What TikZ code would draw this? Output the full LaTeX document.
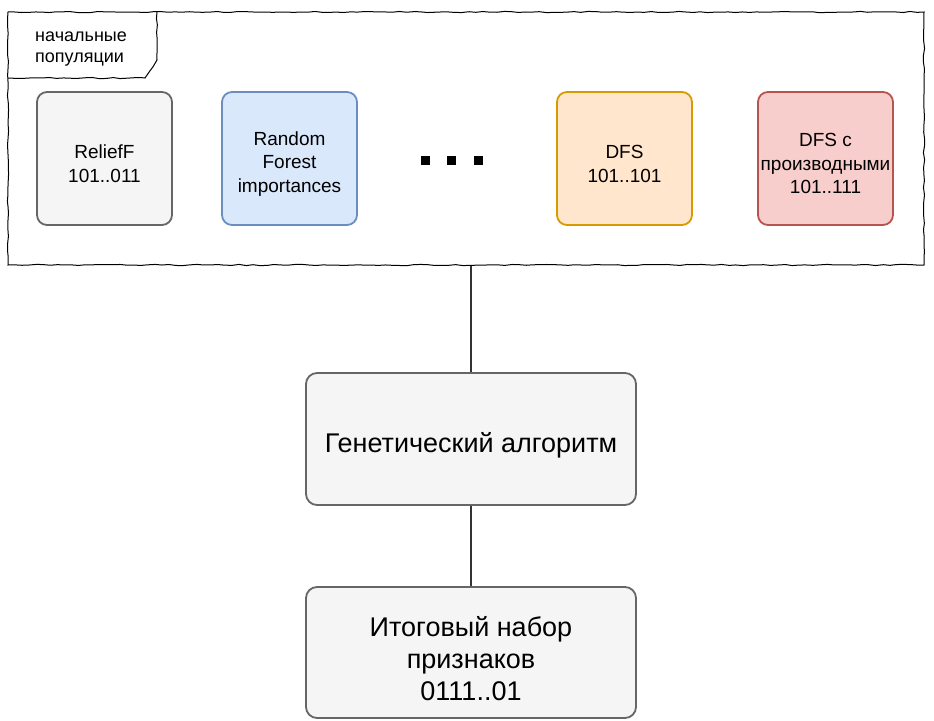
\documentclass[tikz,border=0pt]{standalone}
\usepackage{fontspec}
\setmainfont{Liberation Sans}
\usetikzlibrary{decorations.pathmorphing}
\definecolor{grayF}{HTML}{F5F5F5}
\definecolor{grayS}{HTML}{666666}
\definecolor{blueF}{HTML}{DAE8FC}
\definecolor{blueS}{HTML}{6C8EBF}
\definecolor{orangeF}{HTML}{FFE6CC}
\definecolor{orangeS}{HTML}{D79B00}
\definecolor{redF}{HTML}{F8CECC}
\definecolor{redS}{HTML}{B85450}
\newcommand{\popstrut}{\rule{0pt}{24pt}}
\newcommand{\bigstrut}{\rule{0pt}{32pt}}
\tikzset{
  sketch/.style={decorate, decoration={random steps, segment length=7pt, amplitude=0.6pt}},
  popbox/.style={draw, line width=1.8pt, rounded corners=10pt, minimum width=135pt, minimum height=133pt,
    align=center, font=\fontsize{19}{23.5}\selectfont, inner sep=2pt},
  bigbox/.style={draw=grayS, fill=grayF, line width=1.8pt, rounded corners=11pt, minimum width=330pt,
    align=center, font=\fontsize{27}{32}\selectfont},
  dotsq/.style={fill=black, minimum size=9pt, inner sep=0pt},
  conn/.style={draw=black!80, line width=1.3pt},
}
\begin{document}
\begin{tikzpicture}[x=1pt,y=-1pt]
\pgfmathsetseed{7}
\useasboundingbox (0,0) rectangle (934,720);
% container
\node (pop) [sketch, draw, line width=1pt, minimum width=916pt, minimum height=253pt, inner sep=0pt] at (466,138.5) {};
\draw[sketch, line width=1pt] (8,78) -- (145,78) -- (157,60) -- (157,12);
\node (lbl) [align=left, font=\fontsize{18}{21}\selectfont, anchor=north west, inner sep=0pt] at (35,32) {начальные\\популяции};
% population boxes
\node (rf) [popbox, draw=grayS, fill=grayF] at (104.5,158.5) {\popstrut ReliefF\\101..011};
\node (rnd) [popbox, draw=blueS, fill=blueF] at (289.5,158.5) {\popstrut Random\\Forest\\importances};
\node (d1) [dotsq] at (425,160) {};
\node (d2) [dotsq] at (451,160) {};
\node (d3) [dotsq] at (478,160) {};
\node (dfs) [popbox, draw=orangeS, fill=orangeF] at (624.5,158.5) {\popstrut DFS\\101..101};
\node (dfsp) [popbox, draw=redS, fill=redF] at (825.5,158.5) {\popstrut DFS с\\производными\\101..111};
% lower boxes
\node (ga) [bigbox, minimum height=132pt] at (471,439) {\bigstrut Генетический алгоритм};
\node (res) [bigbox, minimum height=131pt] at (471,652.5) {\bigstrut Итоговый набор\\признаков\\0111..01};
% connectors
\draw[conn] (ga.north |- pop.south) -- (ga.north);
\draw[conn] (ga.south) -- (res.north);
\end{tikzpicture}
\end{document}
